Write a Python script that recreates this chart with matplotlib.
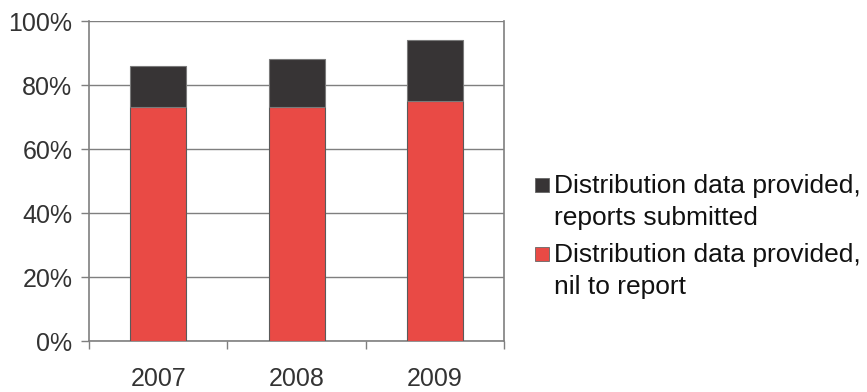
import matplotlib
matplotlib.use("Agg")
import matplotlib.pyplot as plt
from matplotlib.patches import Rectangle
import numpy as np

plt.rcParams['font.family'] = ['Liberation Sans', 'DejaVu Sans']

years = ["2007", "2008", "2009"]
nil_to_report = [73, 73, 75]
reports_submitted = [13, 15, 19]
series_labels = [["Distribution data provided,", "reports submitted"],
                 ["Distribution data provided,", "nil to report"]]
y_ticks = [0, 20, 40, 60, 80, 100]

red = "#E94A45"
dark = "#373435"
grid_gray = "#7F7F7F"
text_col = "#333333"

fig = plt.figure(figsize=(8.67, 3.92), dpi=100)
ax = fig.add_axes([0.1027, 0.1301, 0.4787, 0.8163])

x = np.arange(len(years))
w = 0.405
ax.bar(x, nil_to_report, w, color=red, edgecolor="#5a5a5a", linewidth=0.8, zorder=3)
ax.bar(x, reports_submitted, w, bottom=nil_to_report, color=dark,
       edgecolor="#7a7a7a", linewidth=0.8, zorder=3)

ax.set_xlim(-0.5, len(years) - 0.5)
ax.set_ylim(0, 100)
ax.set_yticks(y_ticks)
ax.set_yticklabels([f"{v}%" for v in y_ticks])
ax.yaxis.grid(True, color=grid_gray, linewidth=1.0, zorder=0)
ax.set_axisbelow(True)

# category boundaries carry the x tick marks, labels sit at the centres
ax.set_xticks(np.arange(len(years) + 1) - 0.5)
ax.set_xticklabels([])
ax.set_xticks(x, minor=True)
ax.set_xticklabels(years, minor=True)
ax.tick_params(axis="x", which="major", length=6, width=1.0, color=grid_gray, direction="out")
ax.tick_params(axis="x", which="minor", length=0, pad=19, labelsize=18, labelcolor=text_col)
ax.tick_params(axis="y", length=6, width=1.0, color=grid_gray, direction="out",
               pad=6, labelsize=18, labelcolor=text_col)

for side in ["left", "bottom", "right"]:
    ax.spines[side].set_color(grid_gray)
    ax.spines[side].set_linewidth(1.2)
ax.spines["top"].set_visible(False)

# legend drawn in figure pixel coordinates
W, H = 867, 392
entries = [(dark, series_labels[0], 193), (red, series_labels[1], 262)]
for col, lines, base in entries:
    sq = 14
    fig.patches.append(Rectangle((535 / W, 1 - (base - 1) / H), sq / W, sq / H,
                                 transform=fig.transFigure, facecolor=col,
                                 edgecolor="#666666", linewidth=0.6))
    for i, line in enumerate(lines):
        fig.text(554 / W, 1 - (base + 32 * i) / H, line, fontsize=19,
                 color="#111111", va="baseline", ha="left")

fig.savefig("out.png", dpi=100)
